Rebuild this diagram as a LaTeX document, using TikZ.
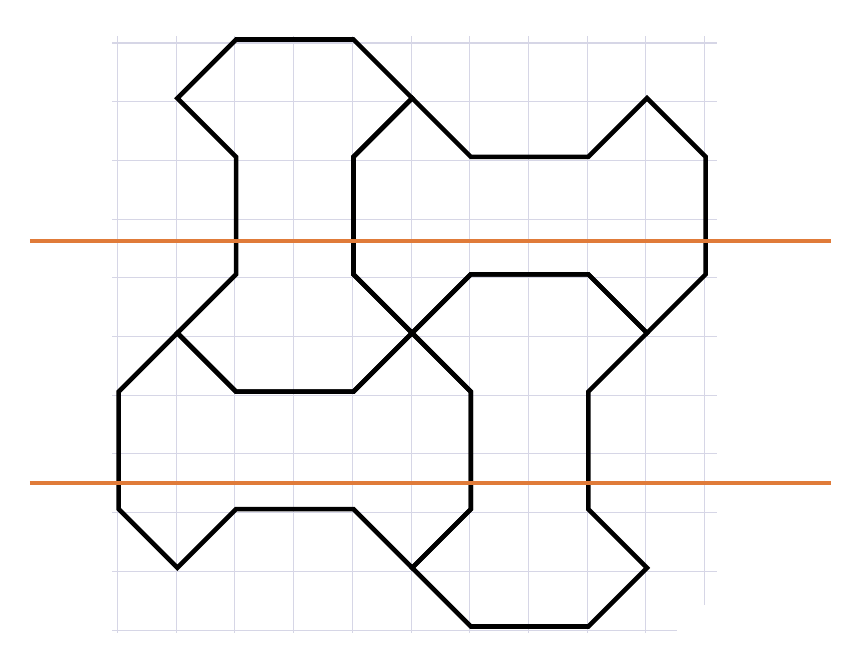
\documentclass[tikz,border=0pt]{standalone}
\usepackage{tikz}
\usetikzlibrary{calc}
\definecolor{gridlav}{HTML}{D6D6E6}
\definecolor{cutorange}{HTML}{E07B39}
\tikzset{
  gridline/.style={gridlav, line width=0.5pt},
  boneline/.style={black, line width=2.2pt, line join=miter},
  cutline/.style={cutorange, line width=2.2pt}
}
\begin{document}
\begin{tikzpicture}[x=1cm,y=1cm]
  \useasboundingbox (-2.002,-0.2385) rectangle (12.342,10.733);
  % grid
  \foreach \k in {0,...,10}{
    \draw[gridline] (-0.094,\k) -- (10.21,\k);
    \draw[gridline] (\k,-0.05) -- (\k,10.12);
  }
  \fill[white] (9.53,-0.24) rectangle (10.3,0.43);
  % the four bones
  \begin{scope}[shift={(0.02,0.06)}]
    \draw[boneline] (2,10) -- (4,10) -- (5,9) -- (4,8) -- (4,6) -- (5,5) -- (4,4)
      -- (2,4) -- (1,5) -- (2,6) -- (2,8) -- (1,9) -- cycle;
    \draw[boneline] (5,9) -- (6,8) -- (8,8) -- (9,9) -- (10,8) -- (10,6) -- (9,5)
      -- (8,6) -- (6,6) -- (5,5) -- (4,6) -- (4,8) -- cycle;
    \draw[boneline] (6,6) -- (8,6) -- (9,5) -- (8,4) -- (8,2) -- (9,1) -- (8,0)
      -- (6,0) -- (5,1) -- (6,2) -- (6,4) -- (5,5) -- cycle;
    \draw[boneline] (1,5) -- (0,4) -- (0,2) -- (1,1) -- (2,2) -- (4,2) -- (5,1)
      -- (6,2) -- (6,4) -- (5,5) -- (4,4) -- (2,4) -- cycle;
  \end{scope}
  % cuts
  \draw[cutline] (-1.491,6.627) -- (12.155,6.627);
  \draw[cutline] (-1.491,2.504) -- (12.155,2.504);
\end{tikzpicture}
\end{document}
